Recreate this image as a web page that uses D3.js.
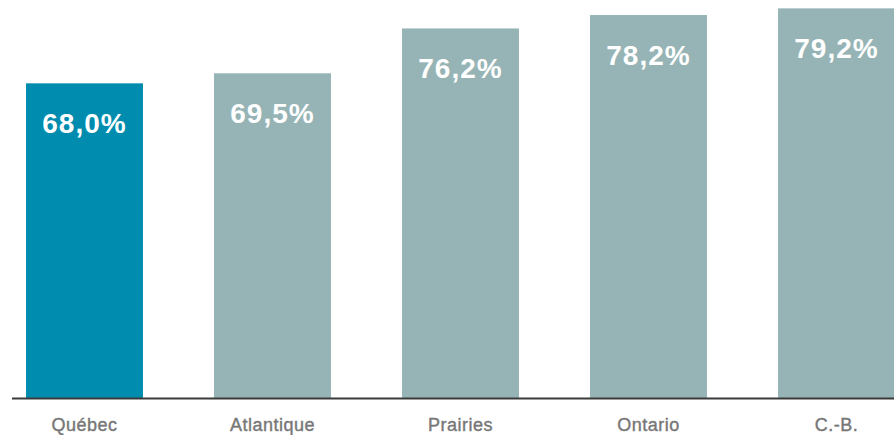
<!DOCTYPE html>
<html>
<head>
<meta charset="utf-8">
<script src="https://cdn.jsdelivr.net/npm/d3@7"></script>
<style>
  body { margin: 0; background: #fff; }
  svg { display: block; font-family: "Liberation Sans", Arial, sans-serif; }
</style>
</head>
<body>
<div class="canvas"></div>
<script>
// données
const regions = ["Québec", "Atlantique", "Prairies", "Ontario", "C.-B."];
const taux = [68.0, 69.5, 76.2, 78.2, 79.2];
const etiquettes = ["68,0%", "69,5%", "76,2%", "78,2%", "79,2%"];

const chartSet = { width: 894, height: 435, baseline: 398 };

const svg = d3
  .select(".canvas")
  .append("svg")
  .attr("width", chartSet.width)
  .attr("height", chartSet.height);

const x = d3
  .scaleBand()
  .domain(regions)
  .range([-9.5, 930.5])
  .paddingInner(0.378)
  .paddingOuter(0.189);

// l'axe ne part pas de zéro
const y = d3.scaleLinear().domain([21, 80]).range([chartSet.baseline, 3]);

const data = regions.map((r, i) => ({ region: r, taux: taux[i], label: etiquettes[i] }));

// barres
svg
  .selectAll("rect.bar")
  .data(data)
  .enter()
  .append("rect")
  .attr("class", "bar")
  .attr("x", (d) => x(d.region))
  .attr("width", x.bandwidth())
  .attr("y", (d) => y(d.taux))
  .attr("height", (d) => chartSet.baseline - y(d.taux))
  .attr("fill", (d, i) => (i === 0 ? "#008cae" : "#96b4b5"));

// valeurs
svg
  .selectAll("text.val")
  .data(data)
  .enter()
  .append("text")
  .attr("class", "val")
  .attr("x", (d) => x(d.region) + x.bandwidth() / 2)
  .attr("y", (d) => y(d.taux) + 50)
  .attr("text-anchor", "middle")
  .attr("fill", "#fff")
  .attr("font-size", 28)
  .attr("font-weight", "bold")
  .attr("letter-spacing", 1)
  .text((d) => d.label);

// ligne de base
svg
  .append("line")
  .attr("x1", 12)
  .attr("x2", chartSet.width)
  .attr("y1", chartSet.baseline + 0.5)
  .attr("y2", chartSet.baseline + 0.5)
  .attr("stroke", "#3a3a3a")
  .attr("stroke-width", 2);

// axe x
const xAxis = d3.axisBottom(x).tickSize(0).tickPadding(0);
const gx = svg
  .append("g")
  .attr("transform", `translate(0, ${chartSet.baseline})`)
  .call(xAxis);
gx.select(".domain").remove();
gx.selectAll("text")
  .attr("dy", 0)
  .attr("y", 33)
  .attr("fill", "#777")
  .attr("stroke", "#777")
  .attr("stroke-width", 0.4)
  .attr("letter-spacing", 0.5)
  .attr("font-size", 18)
  .attr("font-family", "Liberation Sans, Arial, sans-serif");
</script>
</body>
</html>
